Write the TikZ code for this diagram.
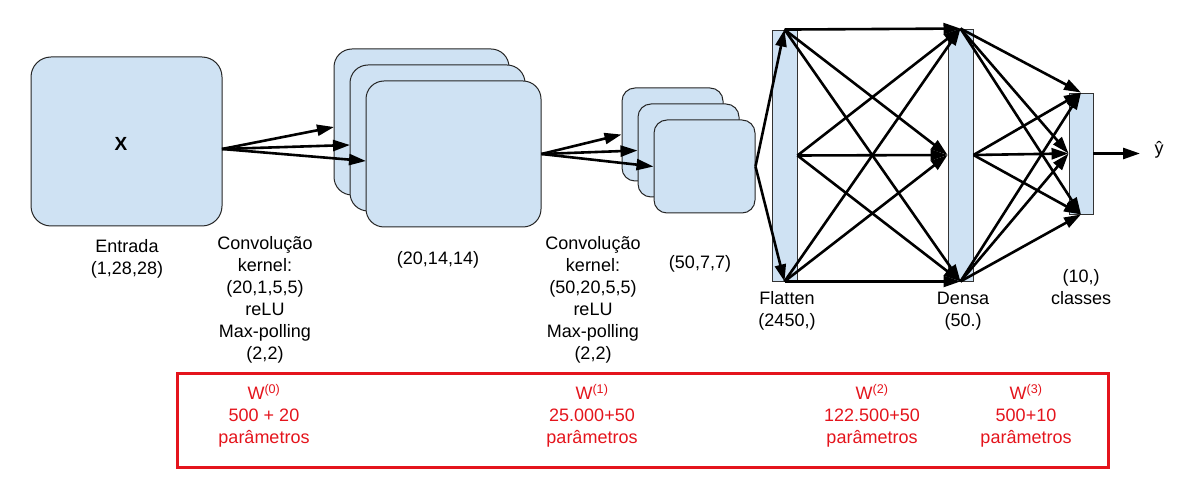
\documentclass[tikz,border=0pt]{standalone}
\usepackage{fontspec}
\setmainfont{Liberation Sans}
\usetikzlibrary{arrows.meta,calc}
\definecolor{boxblue}{HTML}{CFE2F3}
\definecolor{myred}{RGB}{228,20,28}
\begin{document}
\begin{tikzpicture}[x=1pt,y=-1pt,
  txt/.style={font=\fontsize{18}{22}\selectfont, align=center, inner sep=0pt},
  redtxt/.style={txt, text=myred},
  fmap/.style={draw=black!85, line width=1pt, fill=boxblue, rounded corners=#1, inner sep=0pt},
  fmap/.default=18pt,
  bar/.style={draw=black!80, line width=0.9pt, fill=boxblue, inner sep=0pt, minimum width=25pt},
  conn/.style={line width=2.6pt, -{Triangle[length=17pt,width=11pt]}},
]
\useasboundingbox (0,0) rectangle (1196,502);

% input
\node[fmap=20pt, minimum width=191pt, minimum height=169pt] (in) at (126.5,141.5) {};
\node[txt, font=\fontsize{19}{22}\selectfont\bfseries] (xlab) at (121,144) {X};
\coordinate (s1) at (222,149);

% conv1 stack
\node[fmap, minimum width=175pt, minimum height=146pt] (c1a) at (421.5,122) {};
\node[fmap, minimum width=175pt, minimum height=146pt] (c1b) at (437.5,138) {};
\node[fmap, minimum width=175pt, minimum height=146pt] (c1c) at (453.5,154) {};
\coordinate (t1a) at (334,127);
\coordinate (t1b) at (350,145);
\coordinate (t1c) at (366,161);

% conv2 stack
\node[fmap=13pt, minimum width=101pt, minimum height=93pt] (c2a) at (672.5,134.5) {};
\node[fmap=13pt, minimum width=101pt, minimum height=93pt] (c2b) at (688.5,150.5) {};
\node[fmap=13pt, minimum width=101pt, minimum height=93pt] (c2c) at (704.5,166.5) {};

% flatten, dense, output
\node[bar, minimum height=251pt] (fl) at (784.5,155.5) {};
\node[bar, minimum height=252pt] (de) at (960.5,155) {};
\node[bar, minimum width=24pt, minimum height=121pt] (out) at (1081,153.5) {};

% connectors
\draw[conn] (s1) -- (t1a);
\draw[conn] (s1) -- (t1b);
\draw[conn] (s1) -- (t1c);

\draw[conn] (c1c.east) -- (c2a.west);
\draw[conn] (c1c.east) -- (c2b.west);
\draw[conn] (c1c.east) -- (c2c.west);

\draw[conn] (c2c.east) -- (fl.north);
\draw[conn] (c2c.east) -- (fl.south);

\foreach \s in {fl.north, fl.east, fl.south}
  \foreach \t in {de.north, de.west, de.south}
    \draw[conn] (\s) -- (\t);

\foreach \s in {de.north, de.east, de.south}
  \foreach \t in {out.north, out.west, out.south}
    \draw[conn] (\s) -- (\t);

% output label y-hat
\node[txt] (yl) at (1159,150) {ŷ};
\coordinate (yend) at (1140,153.5);
\draw[conn] (out.east) -- (yend);

% labels
\node[txt] (lin) at (127,258.5) {Entrada\\(1,28,28)};
\node[txt] (lc1) at (265,299.5) {Convolução\\kernel:\\(20,1,5,5)\\reLU\\Max-polling\\(2,2)};
\node[txt] (lf1) at (438,260) {(20,14,14)};
\node[txt] (lc2) at (593,299.5) {Convolução\\kernel:\\(50,20,5,5)\\reLU\\Max-polling\\(2,2)};
\node[txt] (lf2) at (700,264) {(50,7,7)};
\node[txt] (lfl) at (787,311) {Flatten\\(2450,)};
\node[txt] (lde) at (963,311) {Densa\\(50.)};
\node[txt] (lout) at (1081,287) {(10,)\\classes};

% parameters box
\node[draw=myred, line width=3pt, minimum width=931pt, minimum height=94pt, inner sep=0pt] (params) at (642.5,420) {};
\node[redtxt] (w0) at (264,416) {W\textsuperscript{(0)}\\500 + 20\\parâmetros};
\node[redtxt] (w1) at (592,416) {W\textsuperscript{(1)}\\25.000+50\\parâmetros};
\node[redtxt] (w2) at (872,416) {W\textsuperscript{(2)}\\122.500+50\\parâmetros};
\node[redtxt] (w3) at (1026,416) {W\textsuperscript{(3)}\\500+10\\parâmetros};
\end{tikzpicture}
\end{document}
